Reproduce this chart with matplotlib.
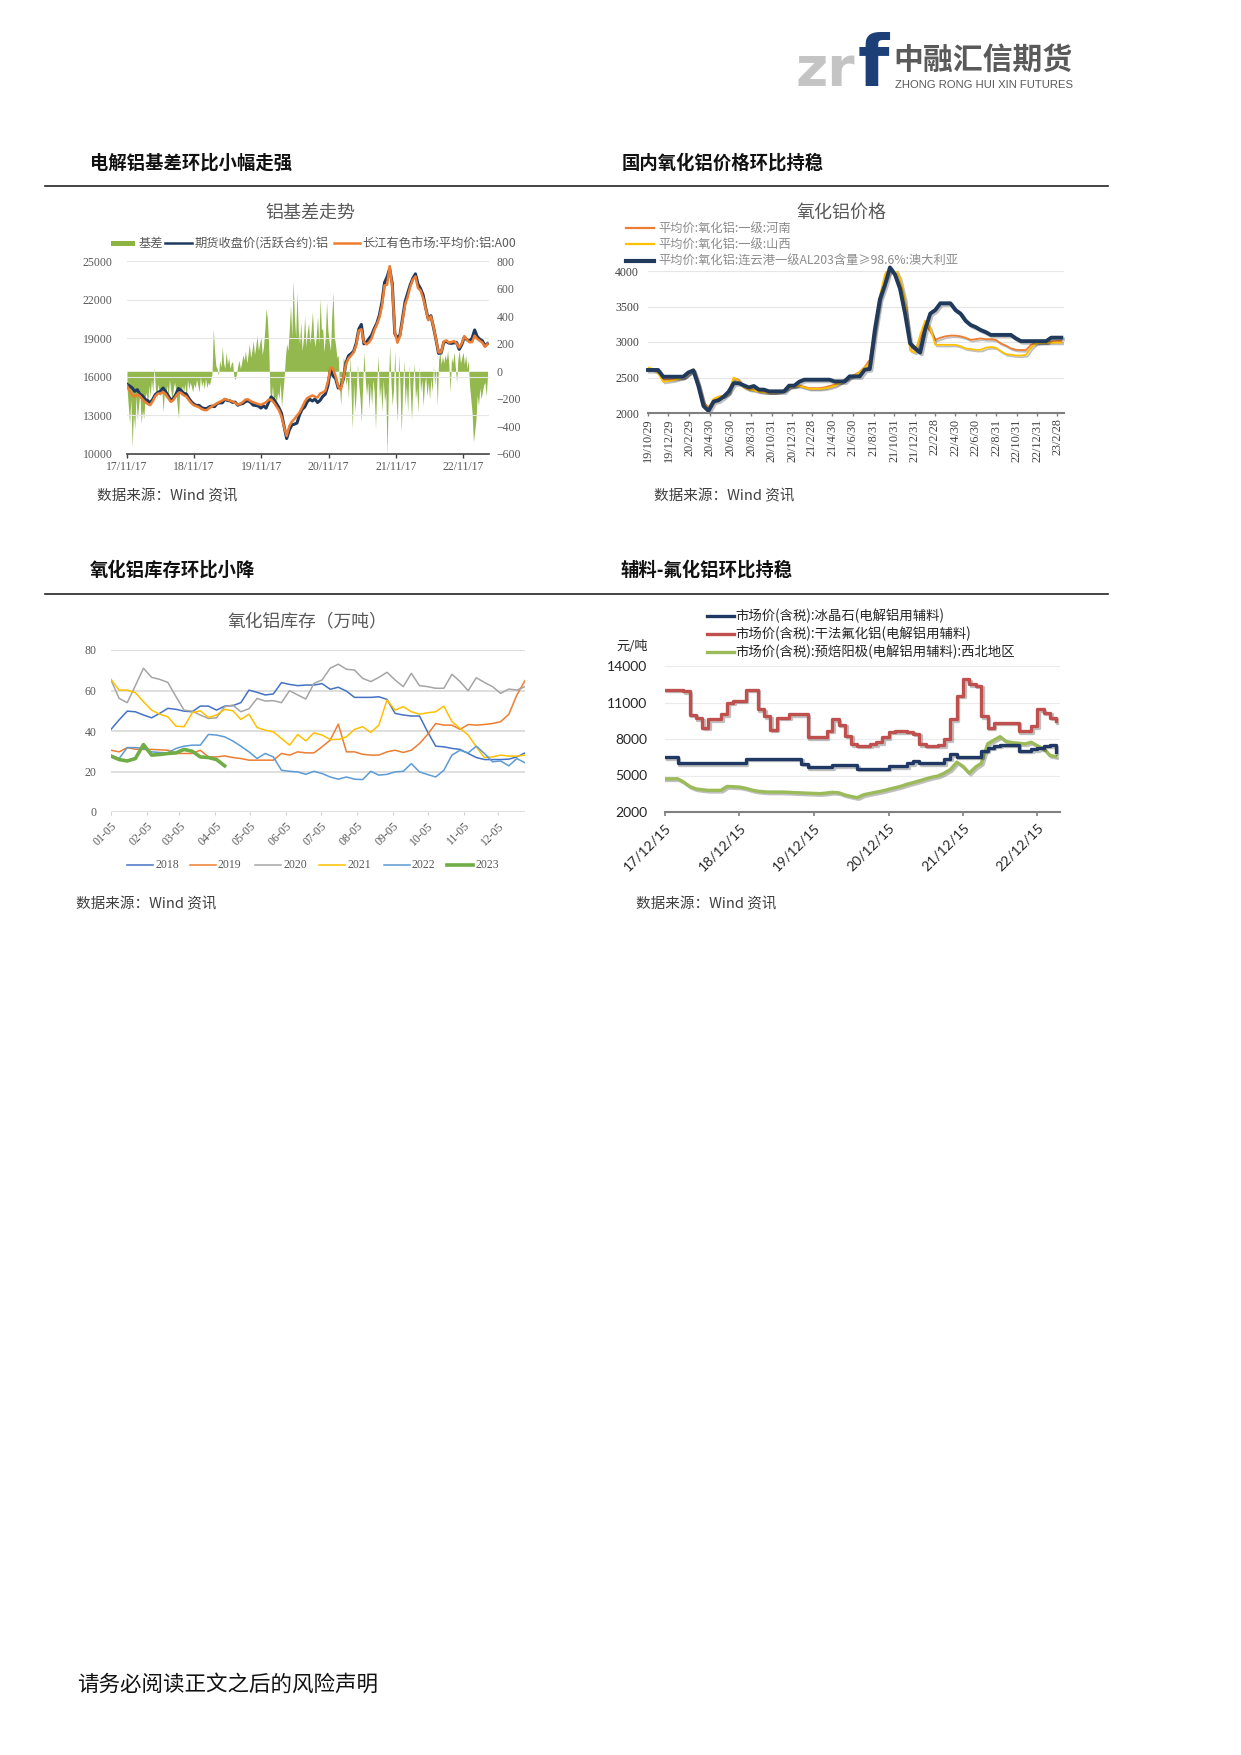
import numpy as np
import pandas as pd
import matplotlib
matplotlib.use("Agg")
import matplotlib.pyplot as plt
import matplotlib.patheffects as pe
from matplotlib.patches import Rectangle

plt.rcParams['font.family'] = ['Noto Sans CJK SC', 'DejaVu Sans']

# ============================================================
# data: chart 1  铝基差走势
# ============================================================
spot_start = '2017-11-17'        # 2-week grid
spot_price = [15300, 14900, 14600, 14450, 14650, 14500, 14250, 14050, 13900, 13800,
              14100, 14500, 14700, 14700, 14830, 14650, 14350, 14050, 14190, 14500,
              14750, 14760, 14570, 14470, 14200, 13950, 13780, 13710, 13630, 13490,
              13410, 13410, 13570, 13700, 13830, 13940, 14050, 14160, 14270, 14210,
              14150, 14080, 13970, 13830, 13900, 14040, 14230, 14250, 14110, 14020,
              13950, 13880, 13820, 13920, 14020, 14220, 14220, 14000, 13700, 13400,
              12900, 12100, 11400, 12150, 12500, 12720, 12980, 13240, 13620, 14050,
              14350, 14450, 14550, 14450, 14400, 14700, 14780, 14900, 15600, 16700,
              16650, 16050, 15250, 14980, 15900, 16950, 17430, 17640, 17900, 18450,
              19600, 19700, 18700, 18520, 18690, 18990, 19600, 20050, 20600, 21500,
              23100, 23150, 24600, 23000, 19500, 18650, 19150, 20400, 21600, 22200,
              23000, 23550, 23800, 22900, 22700, 22100, 21300, 20400, 20700, 19900,
              18900, 17900, 17900, 18740, 18830, 18660, 18700, 18780, 18580, 18280,
              18600, 19150, 18900, 18680, 18700, 19200, 18950, 18800, 18650, 18330,
              18550]
# weekly basis (spot - futures)
basis = [-120, -250, -380, -200, -549, -300, -420, -180, -350, -250, -150, -380, -280,
         -343, -200, -150, -250, -100, -180, -60, -150, 30, -120, -200, -90, -150,
         -180, -120, -295, -150, -200, -100, -180, -60, -140, -200, -120, -80, -150,
         -250, -343, -120, -180, -100, -150, -90, -200, -60, -130, -80, -110, -150,
         -90, -120, -60, -100, -150, -40, -110, -70, -130, -50, -120, -80, -100,
         -60, -20, 310, 150, 40, 20, -30, 80, 30, 180, 60, 20, 140,
         50, 100, 20, 60, 70, -40, -60, -20, 40, 80, 20, 60, 120,
         80, 150, 60, 120, 200, 100, 150, 220, 120, 180, 260, 150, 200,
         250, 120, 180, 300, 455, 380, 200, -150, -220, -100, -250, -180, -222,
         -150, -198, -80, -258, -150, -50, 100, 200, 150, 300, 479, 250, 660,
         400, 250, 575, 300, 200, 358, 150, 237, 400, 180, 285, 350, 200,
         300, 430, 250, 180, 261, 400, 200, 527, 300, 309, 140, 250, 503,
         300, 213, 150, 400, 575, 250, 189, 100, 116, -100, -246, -50, 100,
         68, -100, -50, -198, 116, -150, -416, -80, -295, -150, 50, -100, -200,
         -367, -100, 140, -50, -174, -80, -271, -100, -246, -60, -150, -416, -100,
         116, -198, -100, -295, -60, -222, -150, -609, -100, 189, -80, -250, -120,
         150, -200, -367, 120, -100, -440, -150, 80, -250, -100, -300, 50, -150,
         -350, -100, 60, -200, -120, -300, 40, -150, -60, -250, -100, -40, -180,
         -80, -200, -50, -150, 40, -100, 20, -250, 80, 140, 50, 110, 60,
         120, 80, 150, 40, -150, 100, 60, 140, 30, -80, 90, 150, 60,
         100, 140, 50, 120, 20, 80, -100, -200, -300, -512, -440, -350, -174,
         -250, -120, -200, -150, -100, -80, -180, -29]
c1_ticks = ['2017-11-17', '2018-11-17', '2019-11-17', '2020-11-17', '2021-11-17', '2022-11-17']
c1_labels = ['17/11/17', '18/11/17', '19/11/17', '20/11/17', '21/11/17', '22/11/17']

# ============================================================
# data: chart 2  氧化铝价格 (half-month grid)
# ============================================================
c2_start = '2019-10-29'
henan = [2620, 2610, 2600, 2480, 2470, 2480, 2490, 2500, 2550, 2610,
         2400, 2150, 2080, 2180, 2230, 2240, 2290, 2490, 2470, 2380,
         2340, 2330, 2310, 2300, 2290, 2290, 2300, 2320, 2370, 2380,
         2390, 2370, 2350, 2350, 2350, 2360, 2380, 2400, 2430, 2470,
         2510, 2540, 2580, 2650, 2750, 3200, 3600, 3850, 4000, 3950,
         3800, 3500, 2950, 2880, 3050, 3250, 3150, 3030, 3060, 3080,
         3090, 3090, 3080, 3060, 3030, 3040, 3050, 3040, 3040, 3030,
         2980, 2950, 2910, 2890, 2887, 2887, 2960, 2990, 2990, 2990,
         3010, 3014, 3014]
shanxi = [2640, 2620, 2560, 2440, 2450, 2460, 2480, 2500, 2560, 2620,
          2420, 2130, 2060, 2200, 2230, 2240, 2280, 2500, 2450, 2360,
          2330, 2320, 2300, 2290, 2290, 2290, 2300, 2320, 2360, 2380,
          2380, 2360, 2340, 2340, 2340, 2345, 2360, 2380, 2420, 2460,
          2500, 2530, 2570, 2640, 2700, 3150, 3650, 3950, 4080, 4050,
          3900, 3600, 2880, 2850, 3100, 3300, 3200, 2960, 2960, 2960,
          2960, 2960, 2940, 2910, 2900, 2890, 2890, 2920, 2930, 2920,
          2870, 2830, 2820, 2810, 2810, 2820, 2920, 2980, 2990, 2990,
          2990, 2990, 2990]
australia = [2606, 2606, 2606, 2511, 2511, 2511, 2511, 2511, 2570, 2600,
             2380, 2100, 2030, 2160, 2180, 2230, 2300, 2420, 2420, 2390,
             2360, 2380, 2330, 2329, 2305, 2305, 2305, 2305, 2385, 2385,
             2440, 2469, 2469, 2469, 2469, 2469, 2469, 2445, 2445, 2445,
             2516, 2516, 2516, 2610, 2620, 3169, 3600, 3800, 4050, 3950,
             3750, 3400, 2980, 2911, 2850, 3180, 3400, 3450, 3545, 3545,
             3545, 3450, 3400, 3300, 3240, 3210, 3169, 3140, 3100, 3100,
             3100, 3100, 3100, 3050, 3012, 3012, 3012, 3012, 3012, 3012,
             3061, 3061, 3061]
c2_ticks = ['2019-10-29', '2019-12-29', '2020-02-29', '2020-04-30', '2020-06-30', '2020-08-31',
            '2020-10-31', '2020-12-31', '2021-02-28', '2021-04-30', '2021-06-30', '2021-08-31',
            '2021-10-31', '2021-12-31', '2022-02-28', '2022-04-30', '2022-06-30', '2022-08-31',
            '2022-10-31', '2022-12-31', '2023-02-28']
c2_labels = ['19/10/29', '19/12/29', '20/2/29', '20/4/30', '20/6/30', '20/8/31', '20/10/31',
             '20/12/31', '21/2/28', '21/4/30', '21/6/30', '21/8/31', '21/10/31', '21/12/31',
             '22/2/28', '22/4/30', '22/6/30', '22/8/31', '22/10/31', '22/12/31', '23/2/28']

# ============================================================
# data: chart 3  氧化铝库存 (weekly, day offset from 01-05)
# ============================================================
inv_2018 = [40.8, 45.5, 49.8, 49.5, 47.9, 46.5, 48.7, 51.2, 50.7, 49.8,
            49.5, 52.3, 52.3, 50.3, 52.3, 52.5, 54, 60.2, 59.1, 57.8,
            58.3, 63.9, 63, 62.4, 62.7, 62.7, 63.4, 60.6, 61.6, 59.7,
            56.6, 56.6, 56.6, 56.9, 55.6, 48.7, 47.9, 47.4, 47.4, 39.6,
            32.5, 32.2, 31.4, 30.9, 28.9, 26.9, 25.9, 25.9, 25.9, 26.1,
            27.2, 29.2]
inv_2019 = [30.5, 29.7, 31.8, 31, 30.9, 30.9, 30.7, 30.5, 28.9, 28.9,
            28.9, 30.5, 27.2, 27.2, 27.7, 26.9, 26.4, 25.6, 25.6, 25.6,
            25.6, 28.9, 28.1, 29.7, 29.2, 29.2, 32.2, 35.5, 43.4, 29.7,
            29.7, 28.5, 28.1, 28.1, 29.7, 30.5, 29.4, 30.5, 33.8, 38.3,
            43.7, 42.9, 42.9, 40.8, 43.2, 42.9, 43.2, 43.7, 44.6, 48.2,
            57.8, 64.9]
inv_2020 = [65.2, 56.1, 54, 62.4, 71, 66.5, 65.5, 64, 57, 50.3,
            49.8, 47.9, 46.2, 46.5, 52, 52.8, 49.5, 51, 56.1, 54.8,
            55, 54, 59.9, 57.8, 55.8, 63.5, 65.2, 71, 73, 70.5,
            70.1, 66, 64.4, 66.5, 69, 65.2, 61.9, 68.5, 62.4, 61.9,
            61.1, 61.1, 68, 64.4, 59.9, 66.3, 64, 61.9, 58.6, 60.7,
            60.2, 61.9]
inv_2021 = [65.5, 60.2, 60.2, 58.9, 54.5, 50.3, 48.3, 47, 42.4, 42.1,
            49, 50, 46.7, 47.9, 50.7, 50, 45.7, 48.3, 41.7, 40.4,
            39.6, 36.3, 33, 38.3, 35.1, 39.1, 38, 35.8, 35.8, 37.1,
            40.8, 42.1, 39.3, 42.9, 55.3, 50.3, 52, 49.5, 48.3, 49,
            49.5, 52.3, 44.6, 41.3, 38, 32.2, 26.9, 27.2, 28.1, 27.6,
            27.6, 28.1]
inv_2022 = [28, 26.4, 31.8, 31.8, 31.4, 29.7, 29.4, 29.2, 31.4, 32.5,
            33, 33, 38.3, 38, 37.1, 35.1, 32.5, 29.7, 26.4, 28.9,
            27.2, 20.6, 20.1, 19.8, 18.6, 20.1, 19, 17.3, 16.2, 17.3,
            16.2, 16, 20.1, 18.2, 18.6, 19.8, 20.1, 23.9, 19.8, 18.5,
            17.3, 20.6, 28.1, 30.5, 29.2, 32.5, 28.9, 24.8, 25.2, 22.8,
            26.4, 24.3]
inv_2023 = [27.6, 25.9, 25.2, 26.4, 33.3, 28.1, 28.4, 28.9, 29.2, 30.9,
            30, 27.2, 26.9, 25.9, 22.8]
c3_years = ['2018', '2019', '2020', '2021', '2022', '2023']
c3_month_days = [0, 31, 59, 90, 120, 151, 181, 212, 243, 273, 304, 334]
c3_labels = ['01-05', '02-05', '03-05', '04-05', '05-05', '06-05',
             '07-05', '08-05', '09-05', '10-05', '11-05', '12-05']

# ============================================================
# data: chart 4  辅料 (monthly, 15th)
# ============================================================
c4_start = '2017-12-01'
cryolite = [6500, 6500, 6040, 6040, 6040, 6040, 6040, 6040, 6040, 6040,
            6040, 6040, 6040, 6370, 6370, 6370, 6370, 6370, 6370, 6370,
            6370, 6370, 5960, 5680, 5680, 5680, 5680, 5870, 5870, 5870,
            5870, 5550, 5550, 5550, 5550, 5550, 5770, 5770, 5770, 6040,
            6170, 6040, 6040, 6040, 6040, 6370, 6770, 6560, 6560, 6560,
            6560, 7050, 7300, 7450, 7540, 7540, 7540, 7050, 7050, 7150,
            7260, 7450, 7500, 6910]
alf3 = [12060, 12060, 12060, 11920, 10000, 9700, 8920, 9610, 9610, 10030,
        11000, 11140, 11140, 12060, 12060, 10440, 9890, 8780, 9750, 9750,
        10030, 10030, 10030, 8140, 8140, 8140, 8680, 9610, 9190, 8270,
        7590, 7450, 7450, 7600, 7730, 8140, 8600, 8640, 8640, 8600,
        8450, 7590, 7450, 7450, 7500, 8000, 9610, 11560, 12940, 12530,
        12390, 9890, 8920, 9330, 9330, 9330, 9330, 8640, 8640, 9060,
        10440, 10170, 9750, 9470]
anode = [4730, 4730, 4730, 4480, 4100, 3900, 3830, 3780, 3780, 3780,
         4100, 4080, 4050, 3950, 3800, 3710, 3660, 3640, 3640, 3640,
         3620, 3590, 3570, 3550, 3530, 3510, 3560, 3620, 3580, 3400,
         3280, 3180, 3420, 3530, 3630, 3730, 3860, 3990, 4120, 4280,
         4420, 4560, 4720, 4860, 4960, 5200, 5500, 6100, 5750, 5190,
         5700, 6000, 7600, 7900, 8190, 7800, 7700, 7650, 7600, 7730,
         7450, 7200, 6640, 6560]
c4_ticks = ['2017-12-15', '2018-12-15', '2019-12-15', '2020-12-15', '2021-12-15', '2022-12-15']
c4_labels = ['17/12/15', '18/12/15', '19/12/15', '20/12/15', '21/12/15', '22/12/15']

# ============================================================
# page layout (pixel coordinates, origin top-left)
# ============================================================
W, H = 1241, 1755
fig = plt.figure(figsize=(W / 100, H / 100), dpi=100)
fig.patch.set_facecolor('white')
bg = fig.add_axes([0, 0, 1, 1])
bg.set_xlim(0, W)
bg.set_ylim(H, 0)
bg.axis('off')


def box(x0, y0, x1, y1):
    return fig.add_axes([x0 / W, 1 - y1 / H, (x1 - x0) / W, (y1 - y0) / H])


SERIF = 'Liberation Serif'
GRAY = '#595959'
TICK = 8.5

# logo
bg.text(796, 86, 'zr', fontsize=40, fontweight='bold', color='#C4C4C4',
        family='DejaVu Sans', va='baseline')
bg.text(858, 86, 'f', fontsize=52, fontweight='bold', color='#1D3F78',
        family='DejaVu Sans', va='baseline')
bg.text(893, 60, '中融汇信期货', fontsize=21.5, fontweight='bold', color='#5A5A5A', va='center')
bg.text(895, 85, 'ZHONG RONG HUI XIN FUTURES', fontsize=8.1, color='#5A5A5A', va='center',
        family='Liberation Sans')

# section headers
for x, y, s in [(90, 163, '电解铝基差环比小幅走强'), (622, 163, '国内氧化铝价格环比持稳'),
                (90, 570, '氧化铝库存环比小降'), (621, 570, '辅料-氟化铝环比持稳')]:
    bg.text(x, y, s, fontsize=13.2, fontweight='bold', va='center', color='#111111')
for y in (186, 594):
    bg.plot([45, 1108], [y, y], color='#222222', lw=1.2)

# chart titles / sources
bg.text(310, 213, '铝基差走势', fontsize=13, color=GRAY, ha='center', va='center')
bg.text(842, 213, '氧化铝价格', fontsize=13, color=GRAY, ha='center', va='center')
bg.text(307, 621, '氧化铝库存（万吨）', fontsize=12.8, color=GRAY, ha='center', va='center')
for x, y in [(97, 496), (654, 496), (76, 904), (636, 904)]:
    bg.text(x, y, '数据来源：Wind 资讯', fontsize=10.5, color='#404040', va='center')

# footer
bg.text(77, 1685, '请务必阅读正文之后的风险声明', fontsize=15.5, color='#111111', va='center')

# ============================================================
# chart 1
# ============================================================
spot_dates = pd.date_range(spot_start, periods=len(spot_price), freq='14D')
basis_dates = pd.date_range(spot_start, periods=len(basis), freq='7D')
futures = np.array(spot_price) - np.array(basis[::2])

axb = box(127, 261, 489, 454)
axb.fill_between(basis_dates, 0, basis, color='#8DB443', lw=0, alpha=0.95)
axb.set_ylim(-600, 800)
axb.set_yticks(range(-600, 801, 200))
axb.set_xlim(pd.Timestamp('2017-11-17'), pd.Timestamp('2023-04-08'))
axb.set_xticks(pd.to_datetime(c1_ticks))
axb.set_xticklabels(c1_labels)

axp = axb.twinx()
axp.plot(spot_dates, futures, color='#1F3A5F', lw=2.2)
axp.plot(spot_dates, spot_price, color='#ED7D31', lw=1.8)
axp.set_ylim(10000, 25000)
axp.set_yticks(range(10000, 25001, 3000))
axp.yaxis.tick_left()
axb.yaxis.tick_right()
axp.grid(axis='y', color='#E6E6E6', lw=0.8)
axp.set_axisbelow(True)

axb.tick_params(axis='y', length=0, pad=5.5, labelsize=TICK, labelcolor=GRAY)
axb.tick_params(axis='x', length=3, width=1, color='#404040', pad=2, labelsize=TICK, labelcolor=GRAY)
axp.tick_params(axis='y', length=0, pad=10.5, labelsize=TICK, labelcolor=GRAY)
for sp in ['top', 'left', 'right']:
    axb.spines[sp].set_visible(False)
axb.spines['bottom'].set_color('#404040')
axb.spines['bottom'].set_linewidth(1.2)
for sp in axp.spines.values():
    sp.set_visible(False)
for lab in axb.get_xticklabels() + axb.get_yticklabels() + axp.get_yticklabels():
    lab.set_family(SERIF)

# legend
bg.add_patch(Rectangle((111, 240.5), 24, 5, color='#8DB443', lw=0))
bg.text(139, 243, '基差', fontsize=8.8, color=GRAY, va='center')
bg.plot([165, 192], [243, 243], color='#1F3A5F', lw=1.8)
bg.text(195, 243, '期货收盘价(活跃合约):铝', fontsize=8.8, color=GRAY, va='center')
bg.plot([334, 360], [243, 243], color='#ED7D31', lw=1.8)
bg.text(362, 243, '长江有色市场:平均价:铝:A00', fontsize=8.8, color=GRAY, va='center')

# ============================================================
# chart 2
# ============================================================
c2_dates = pd.date_range(c2_start, periods=len(australia), freq='15D')
ax2 = box(648, 271, 1064, 413)
shadow = [pe.SimpleLineShadow(offset=(1.2, -1.2), alpha=0.25), pe.Normal()]
ax2.plot(c2_dates, henan, color='#ED7D31', lw=1.3, path_effects=shadow)
ax2.plot(c2_dates, shanxi, color='#FFC000', lw=1.3, path_effects=shadow)
ax2.plot(c2_dates, australia, color='#203A5C', lw=2.8, path_effects=shadow, clip_on=False)
ax2.set_ylim(2000, 4000)
ax2.set_yticks(range(2000, 4001, 500))
ax2.set_xlim(pd.Timestamp('2019-10-29'), pd.Timestamp('2023-03-20'))
ax2.set_xticks(pd.to_datetime(c2_ticks))
ax2.set_xticklabels(c2_labels, rotation=90)
ax2.grid(axis='y', color='#E6E6E6', lw=0.8)
ax2.set_axisbelow(True)
ax2.tick_params(axis='y', length=0, pad=6.5, labelsize=TICK, labelcolor='#404040')
ax2.tick_params(axis='x', length=2, width=1, color='#808080', pad=2, labelsize=8.8, labelcolor='#404040')
for sp in ['top', 'left', 'right']:
    ax2.spines[sp].set_visible(False)
ax2.spines['bottom'].set_color('#808080')
ax2.spines['bottom'].set_linewidth(1.5)
for lab in ax2.get_xticklabels() + ax2.get_yticklabels():
    lab.set_family(SERIF)

c2_leg = [('平均价:氧化铝:一级:河南', '#ED7D31', 1.6, 228),
          ('平均价:氧化铝:一级:山西', '#FFC000', 1.6, 244),
          ('平均价:氧化铝:连云港一级AL203含量≥98.6%:澳大利亚', '#203A5C', 3.0, 261)]
for txt, col, lw, y in c2_leg:
    bg.plot([626, 654], [y, y], color=col, lw=lw)
    bg.text(658, y, txt, fontsize=8.8, color='#8C8C8C', va='center')

# ============================================================
# chart 3
# ============================================================
ax3 = box(111, 650, 525, 812)
c3_series = [inv_2018, inv_2019, inv_2020, inv_2021, inv_2022, inv_2023]
c3_colors = ['#4472C4', '#ED7D31', '#A5A5A5', '#FFC000', '#5B9BD5', '#70AD47']
c3_widths = [1.1, 1.1, 1.1, 1.1, 1.1, 2.6]
for vals, col, lw in zip(c3_series, c3_colors, c3_widths):
    ax3.plot(np.arange(len(vals)) * 7, vals, color=col, lw=lw)
ax3.set_ylim(0, 80)
ax3.set_yticks(range(0, 81, 20))
ax3.set_xlim(0, 357)
ax3.set_xticks(c3_month_days)
ax3.set_xticklabels(c3_labels, rotation=45, ha='right', rotation_mode='anchor')
ax3.grid(axis='y', color='#D9D9D9', lw=1.2)
ax3.set_axisbelow(True)
ax3.tick_params(axis='y', length=0, pad=10.5, labelsize=TICK, labelcolor=GRAY)
ax3.tick_params(axis='x', length=2.5, width=0.8, color='#D0D0D0', pad=3, labelsize=TICK, labelcolor=GRAY)
for sp in ax3.spines.values():
    sp.set_visible(False)
for lab in ax3.get_xticklabels() + ax3.get_yticklabels():
    lab.set_family(SERIF)

c3_leg_x = [127, 190, 255, 319, 384, 447]
for yr, col, lw, x in zip(c3_years, c3_colors, c3_widths, c3_leg_x):
    bg.plot([x, x + 26], [865, 865], color=col, lw=lw)
    bg.text(x + 28, 865, yr, fontsize=TICK, color=GRAY, va='center', family=SERIF)

# ============================================================
# chart 4
# ============================================================
c4_dates = pd.date_range(c4_start, periods=len(alf3), freq='MS') + pd.Timedelta(days=14)
ax4 = box(665, 666, 1060, 812)
ax4.plot(c4_dates, anode, color='#9BBB59', lw=2.4, path_effects=shadow)
ax4.plot(c4_dates, alf3, color='#C0504D', lw=2.4, drawstyle='steps-post', path_effects=shadow)
ax4.plot(c4_dates, cryolite, color='#203864', lw=2.4, drawstyle='steps-post', path_effects=shadow)
ax4.set_ylim(2000, 14000)
ax4.set_yticks(range(2000, 14001, 3000))
ax4.set_xlim(pd.Timestamp('2017-12-15'), pd.Timestamp('2023-04-05'))
ax4.set_xticks(pd.to_datetime(c4_ticks))
ax4.set_xticklabels(c4_labels, rotation=45, ha='right', rotation_mode='anchor')
ax4.grid(axis='y', color='#EBEBEB', lw=0.8)
ax4.set_axisbelow(True)
ax4.tick_params(axis='y', length=0, pad=13, labelsize=10, labelcolor='#262626')
ax4.tick_params(axis='x', length=3, width=1.2, color='#808080', pad=4, labelsize=10, labelcolor='#262626')
for sp in ['top', 'left', 'right']:
    ax4.spines[sp].set_visible(False)
ax4.spines['bottom'].set_color('#808080')
ax4.spines['bottom'].set_linewidth(1.5)
for lab in ax4.get_xticklabels() + ax4.get_yticklabels():
    lab.set_family('Lato')

bg.text(632, 646, '元/吨', fontsize=9.5, color='#262626', ha='center', va='center')
c4_leg = [('市场价(含税):冰晶石(电解铝用辅料)', '#203864', 616),
          ('市场价(含税):干法氟化铝(电解铝用辅料)', '#C0504D', 634),
          ('市场价(含税):预焙阳极(电解铝用辅料):西北地区', '#9BBB59', 652)]
for txt, col, y in c4_leg:
    bg.plot([707, 734], [y, y], color=col, lw=2.4)
    bg.text(735, y, txt, fontsize=9.6, color='#262626', va='center')

fig.savefig('out.png', dpi=100)
